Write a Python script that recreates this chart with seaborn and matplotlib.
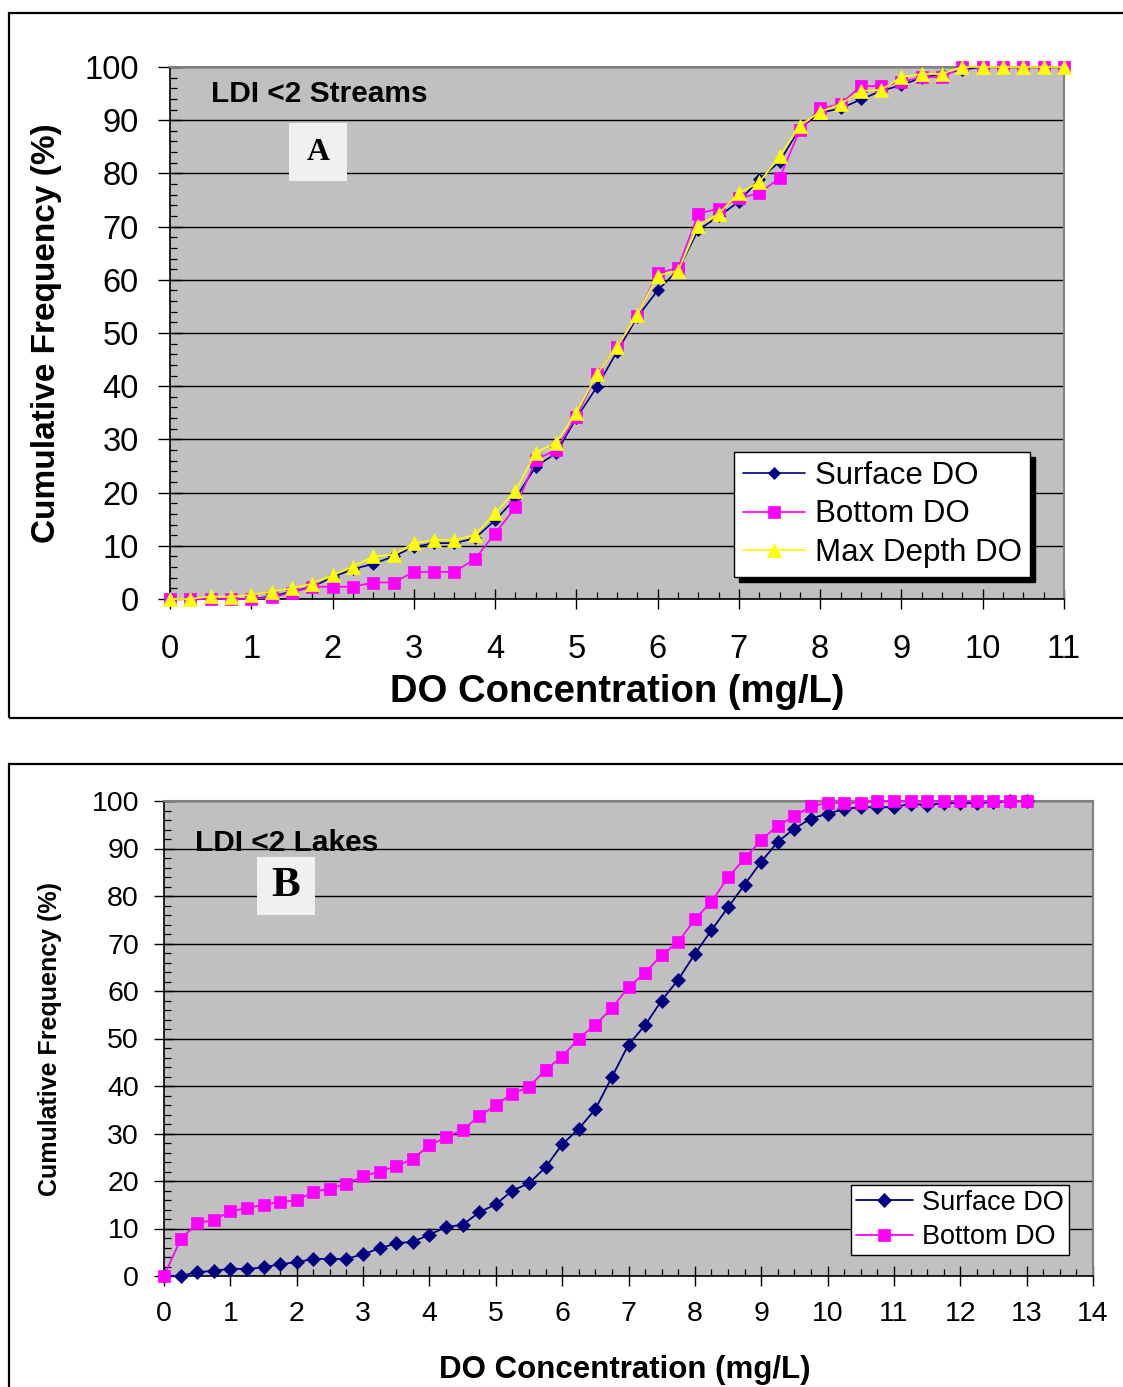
import matplotlib
matplotlib.use("Agg")
import matplotlib.pyplot as plt
from matplotlib.ticker import MultipleLocator
from matplotlib.patches import Rectangle
import seaborn as sns

# ---------------- data ----------------
a_x = [0, 0.25, 0.5, 0.75, 1, 1.25, 1.5, 1.75, 2, 2.25, 2.5, 2.75, 3, 3.25, 3.5, 3.75,
       4, 4.25, 4.5, 4.75, 5, 5.25, 5.5, 5.75, 6, 6.25, 6.5, 6.75, 7, 7.25, 7.5, 7.75,
       8, 8.25, 8.5, 8.75, 9, 9.25, 9.5, 9.75, 10, 10.25, 10.5, 10.75, 11]
a_surface = [0, 0, 0, 0, 0, 0.5, 1.4, 2.3, 4.1, 5.6, 6.6, 8.0, 9.8, 10.5, 10.5, 11.4,
             14.8, 18.9, 24.9, 27.4, 34.0, 39.8, 46.5, 53.0, 58.0, 61.8, 69.4, 71.9, 74.7,
             78.9, 82.2, 88.5, 91.4, 92.2, 93.9, 95.5, 96.6, 98.0, 98.7, 99.5,
             100, 100, 100, 100, 100]
a_bottom = [0, 0, 0, 0, 0, 0.3, 1.2, 2.3, 2.3, 2.3, 3.1, 3.1, 5.1, 5.1, 5.1, 7.5,
            12.3, 17.2, 26.1, 28.1, 34.3, 42.2, 47.4, 53.2, 61.3, 62.2, 72.4, 73.4, 75.3,
            76.3, 79.1, 88.2, 92.2, 93.0, 96.4, 96.4, 97.2, 98.1, 98.1,
            100, 100, 100, 100, 100, 100]
a_maxdepth = [0, 0, 0.5, 0.4, 0.8, 1.4, 2.0, 2.9, 4.5, 6.1, 8.0, 8.3, 10.5, 11.1, 11.1, 12.0,
              16.1, 20.3, 27.5, 29.4, 35.0, 42.2, 47.4, 53.4, 60.8, 61.7, 70.2, 72.4, 76.3,
              78.3, 83.2, 89.0, 91.6, 93.0, 95.5, 95.7, 98.1, 98.7, 98.7,
              100, 100, 100, 100, 100, 100]

b_x = [0, 0.25, 0.5, 0.75, 1, 1.25, 1.5, 1.75, 2, 2.25, 2.5, 2.75, 3, 3.25, 3.5, 3.75,
       4, 4.25, 4.5, 4.75, 5, 5.25, 5.5, 5.75, 6, 6.25, 6.5, 6.75, 7, 7.25, 7.5, 7.75,
       8, 8.25, 8.5, 8.75, 9, 9.25, 9.5, 9.75, 10, 10.25, 10.5, 10.75, 11, 11.25, 11.5,
       11.75, 12, 12.25, 12.5, 12.75, 13]
b_surface = [0, 0, 0.8, 1.1, 1.5, 1.5, 1.8, 2.5, 2.9, 3.6, 3.6, 3.6, 4.6, 5.8, 6.9, 7.2,
             8.7, 10.3, 10.8, 13.4, 15.1, 18.0, 19.5, 22.9, 27.7, 31.0, 35.1, 41.9, 48.7,
             52.8, 58.0, 62.4, 67.8, 72.8, 77.6, 82.4, 87.2, 91.4, 94.2, 96.3, 97.3, 98.3,
             98.7, 98.7, 98.7, 99.4, 99.2, 99.5, 99.6, 99.6, 99.8, 100, 100]
b_bottom = [0, 7.7, 11.1, 11.8, 13.6, 14.3, 15.0, 15.6, 15.9, 17.7, 18.4, 19.4, 21.0, 22.0,
            23.1, 24.7, 27.5, 29.2, 30.8, 33.6, 36.0, 38.4, 39.8, 43.4, 46.2, 50.0, 52.9,
            56.4, 60.8, 63.8, 67.6, 70.3, 75.1, 78.8, 83.9, 87.9, 91.8, 94.8, 96.8, 98.9,
            99.6, 99.6, 99.6, 100, 100, 100, 100, 100, 100, 100, 100, 100, 100]

series_labels = ["Surface DO", "Bottom DO", "Max Depth DO"]
x_label = "DO Concentration (mg/L)"
y_label = "Cumulative Frequency (%)"
title_a = "LDI <2 Streams"
title_b = "LDI <2 Lakes"

NAVY, MAGENTA, YELLOW = "#000080", "#FF00FF", "#FFFF00"

# ---------------- figure ----------------
sns.set_style("ticks")
plt.rcParams["font.family"] = ["Liberation Sans", "DejaVu Sans"]
for k in ["text.color", "axes.labelcolor", "xtick.color", "ytick.color"]:
    plt.rcParams[k] = "black"

W, H = 1123, 1387
fig = plt.figure(figsize=(W / 100, H / 100), dpi=100)


def fx(px):
    return px / W


def fy(py):
    return 1 - py / H


# outer frames
fig.add_artist(Rectangle((fx(9), fy(718)), 1.2, fy(13) - fy(718), transform=fig.transFigure,
                         fill=False, ec="black", lw=1.6))
fig.add_artist(Rectangle((fx(9), -0.2), 1.2, fy(764) + 0.2, transform=fig.transFigure,
                         fill=False, ec="black", lw=1.6))

axA = fig.add_axes([fx(170), fy(599), fx(1064) - fx(170), fy(67) - fy(599)])
axB = fig.add_axes([fx(164), fy(1276), fx(1093) - fx(164), fy(801) - fy(1276)])


def style(ax, xmax, labelsize, ymaj, xmaj, ypad, xpad):
    ax.set_facecolor("#C0C0C0")
    ax.set_xlim(0, xmax)
    ax.set_ylim(0, 100)
    ax.xaxis.set_major_locator(MultipleLocator(1))
    ax.xaxis.set_minor_locator(MultipleLocator(0.25))
    ax.yaxis.set_major_locator(MultipleLocator(10))
    ax.yaxis.set_minor_locator(MultipleLocator(2))
    ax.grid(axis="y", which="major", color="black", lw=1.0)
    ax.grid(axis="x", visible=False)
    ax.set_axisbelow(True)
    ax.tick_params(axis="y", which="major", direction="inout", length=ymaj, width=1.0,
                   pad=ypad, labelsize=labelsize)
    ax.tick_params(axis="x", which="major", direction="inout", length=xmaj, width=1.0,
                   pad=xpad, labelsize=labelsize)
    ax.tick_params(axis="both", which="minor", direction="in", length=5, width=0.9)
    for s in ["left", "bottom"]:
        ax.spines[s].set_color("black")
        ax.spines[s].set_linewidth(1.2)
    for s in ["top", "right"]:
        ax.spines[s].set_color("#808080")
        ax.spines[s].set_linewidth(1.5)


style(axA, 11, 23.5, 17, 14, 14, 18)
style(axB, 14, 20.5, 14, 14, 11, 11)

# ---------------- panel A ----------------
sns.lineplot(x=a_x, y=a_surface, ax=axA, color=NAVY, marker="D", markersize=6.5,
             markeredgecolor=NAVY, markeredgewidth=0.5, lw=1.2, label=series_labels[0],
             clip_on=False, zorder=3)
sns.lineplot(x=a_x, y=a_bottom, ax=axA, color=MAGENTA, marker="s", markersize=8.5,
             markeredgecolor=MAGENTA, markeredgewidth=0.5, lw=1.2, label=series_labels[1],
             clip_on=False, zorder=4)
sns.lineplot(x=a_x, y=a_maxdepth, ax=axA, color=YELLOW, marker="^", markersize=10.5,
             markeredgecolor=YELLOW, markeredgewidth=0.5, lw=1.2, label=series_labels[2],
             clip_on=False, zorder=5)

axA.set_xlabel(x_label, fontsize=27.5, fontweight="bold", va="center", ha="center")
axA.xaxis.set_label_coords(0.5, -0.1748)
axA.set_ylabel(y_label, fontsize=24, fontweight="bold", va="center", ha="center")
axA.yaxis.set_label_coords(-0.138, 0.5)

legA = axA.legend(loc="upper left", bbox_to_anchor=(fx(734), fy(452)),
                  bbox_transform=fig.transFigure, borderaxespad=0, frameon=True,
                  fancybox=False, shadow={"color": "black", "alpha": 1, "ox": 3.6, "oy": -3.6},
                  prop={"size": 22.5}, handlelength=2.0, handletextpad=0.3,
                  labelspacing=0.28, borderpad=0.28, framealpha=1, edgecolor="black")
legA.get_frame().set_linewidth(1.0)

fig.text(fx(211), fy(94), title_a, fontsize=21.5, fontweight="bold", ha="left", va="center")
fig.add_artist(Rectangle((fx(289), fy(181)), 58 / W, 58 / H, transform=fig.transFigure,
                         fc="#F0F0F0", ec="none"))
fig.text(fx(318), fy(153), "A", fontsize=23, fontweight="bold", ha="center", va="center",
         family=["Liberation Serif", "DejaVu Serif"])

# ---------------- panel B ----------------
sns.lineplot(x=b_x, y=b_surface, ax=axB, color=NAVY, marker="D", markersize=7.5,
             markeredgecolor=NAVY, markeredgewidth=0.5, lw=1.3, label=series_labels[0],
             clip_on=False, zorder=3)
sns.lineplot(x=b_x, y=b_bottom, ax=axB, color=MAGENTA, marker="s", markersize=8.5,
             markeredgecolor=MAGENTA, markeredgewidth=0.5, lw=1.3, label=series_labels[1],
             clip_on=False, zorder=4)

axB.set_xlabel(x_label, fontsize=22.5, fontweight="bold", va="center", ha="center")
axB.xaxis.set_label_coords(0.496, -0.198)
axB.set_ylabel(y_label, fontsize=18, fontweight="bold", va="center", ha="center")
axB.yaxis.set_label_coords(-0.1227, 0.5)

legB = axB.legend(loc="upper left", bbox_to_anchor=(fx(851), fy(1185)),
                  bbox_transform=fig.transFigure, borderaxespad=0, frameon=True,
                  fancybox=False, shadow=False, prop={"size": 19.5}, handlelength=2.1,
                  handletextpad=0.35, labelspacing=0.3, borderpad=0.18, framealpha=1,
                  edgecolor="black")
legB.get_frame().set_linewidth(1.0)

fig.text(fx(195), fy(843), title_b, fontsize=21.5, fontweight="bold", ha="left", va="center")
fig.add_artist(Rectangle((fx(257), fy(915)), 58 / W, 58 / H, transform=fig.transFigure,
                         fc="#F0F0F0", ec="none"))
fig.text(fx(286), fy(886), "B", fontsize=31, fontweight="bold", ha="center", va="center",
         family=["Liberation Serif", "DejaVu Serif"])

fig.savefig("out.png", dpi=100)
